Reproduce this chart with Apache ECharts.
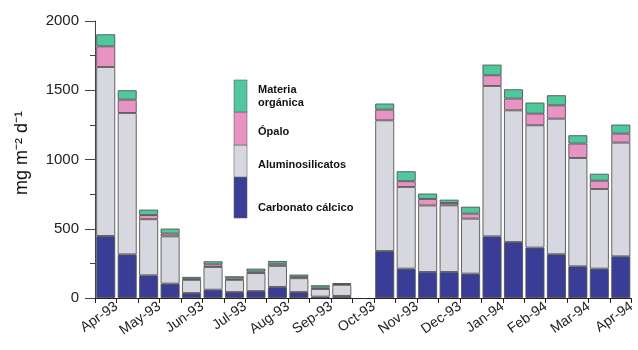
<!DOCTYPE html>
<html>
<head>
<meta charset="utf-8">
<script src="https://cdn.jsdelivr.net/npm/echarts@6/dist/echarts.min.js"></script>
<style>
  html, body { margin: 0; padding: 0; background: #fff; }
  #chart { width: 638px; height: 350px; }
</style>
</head>
<body>
<div id="chart"></div>
<script>
// Monthly sediment-trap fluxes (mg m-2 d-1), two collection periods per month.
// One empty slot (index 12) where no sample was recovered.
const monthLabels = ['Apr-93', 'May-93', 'Jun-93', 'Jul-93', 'Aug-93', 'Sep-93', 'Oct-93',
                     'Nov-93', 'Dec-93', 'Jan-94', 'Feb-94', 'Mar-94', 'Apr-94'];

const carbonato = [448, 315, 164, 104, 36, 60, 43, 50, 80, 43, 10, 15, null,
                   339, 212, 188, 188, 176, 445, 404, 364, 316, 229, 212, 301];
const alumino   = [1220, 1021, 405, 341, 95, 164, 88, 130, 152, 100, 55, 80, null,
                   944, 590, 480, 481, 397, 1086, 951, 883, 979, 782, 575, 821];
const opalo     = [149, 96, 30, 20, 8, 19, 10, 12, 15, 10, 10, 5, null,
                   77, 41, 47, 17, 36, 77, 85, 84, 96, 104, 60, 65];
const organica  = [87, 68, 39, 36, 13, 22, 16, 20, 20, 16, 17, 8, null,
                   44, 72, 39, 24, 50, 77, 67, 80, 73, 60, 50, 65];

const seriesNames  = ['Carbonato cálcico', 'Aluminosilicatos', 'Ópalo', 'Materia\norgánica'];
const seriesColors = ['#3a3d95', '#d7d8df', '#e993c5', '#4fc89c'];
const seriesValues = [carbonato, alumino, opalo, organica];

const yTicks = [0, 500, 1000, 1500, 2000];

const slotCount = carbonato.length;
const slots = carbonato.map((_, i) => 'S' + (i + 1));

const chart = echarts.init(document.getElementById('chart'), null, { renderer: 'canvas' });

const series = seriesValues.map((vals, k) => ({
  name: seriesNames[k],
  type: 'bar',
  stack: 'flux',
  xAxisIndex: 0,
  barWidth: 19,
  data: vals.map(v => (v === null ? '-' : v)),
  itemStyle: { color: seriesColors[k], borderColor: '#555', borderWidth: 0.9 },
  emphasis: { disabled: true }
}));

// vertical colour-bar legend with labels, top entry first
const legendTop = 80;
const legendHeights = [41, 32, 33, 32];   // carbonato, alumino, opalo, organica
const legendLabelY = [208, 165, 132, 96];
const graphics = [];
let yCursor = legendTop + legendHeights.reduce((a, b) => a + b, 0);
seriesNames.forEach((name, k) => {
  const h = legendHeights[k];
  yCursor -= h;
  graphics.push({
    type: 'rect',
    shape: { x: 234, y: yCursor, width: 13, height: h },
    style: { fill: seriesColors[k], stroke: '#666', lineWidth: 0.6 }
  });
  graphics.push({
    type: 'text',
    x: 258, y: legendLabelY[k],
    style: {
      text: name, fill: '#111', font: 'bold 11px "Liberation Sans", Arial, sans-serif',
      verticalAlign: 'middle', lineHeight: 13
    }
  });
});

graphics.push({
  type: 'text',
  x: 22, y: 153,
  rotation: Math.PI / 2,
  style: {
    text: 'mg m\u207B\u00B2 d\u207B\u00B9',
    fill: '#111',
    font: '18px "Liberation Sans", Arial, sans-serif',
    align: 'center', verticalAlign: 'middle'
  }
});

chart.setOption({
  animation: false,
  backgroundColor: '#fff',
  grid: { left: 95, right: 0, top: 21, bottom: 52, containLabel: false },
  xAxis: [
    {
      // one band per sampling slot, carries the bars
      type: 'category',
      data: slots,
      axisLine: { show: false },
      axisTick: { show: false },
      axisLabel: { show: false },
      splitLine: { show: false }
    },
    {
      // slot edges: ticks at every edge, month names at odd edges
      type: 'value',
      position: 'bottom',
      min: 0, max: slotCount, interval: 1,
      splitLine: { show: false },
      axisLine: { show: true, lineStyle: { color: '#222', width: 1 } },
      axisTick: { show: true, length: 5, lineStyle: { color: '#222' } },
      axisLabel: {
        show: true, rotate: 35, margin: 7,
        color: '#222', fontSize: 14, fontFamily: '"Liberation Sans", Arial, sans-serif',
        formatter: v => (v % 2 === 1 ? (monthLabels[(v - 1) / 2] || '') : '')
      }
    }
  ],
  yAxis: {
    type: 'value',
    min: yTicks[0], max: yTicks[yTicks.length - 1], interval: yTicks[1] - yTicks[0],
    splitLine: { show: false },
    axisLine: { show: true, lineStyle: { color: '#444', width: 1 } },
    axisTick: { show: true, length: 10, lineStyle: { color: '#444' } },
    minorTick: { show: true, splitNumber: 2, length: 5, lineStyle: { color: '#444' } },
    axisLabel: {
      color: '#222', fontSize: 15, margin: 16,
      fontFamily: '"Liberation Sans", Arial, sans-serif',
      formatter: v => String(v)
    }
  },
  graphic: graphics,
  series: series
});
</script>
</body>
</html>
